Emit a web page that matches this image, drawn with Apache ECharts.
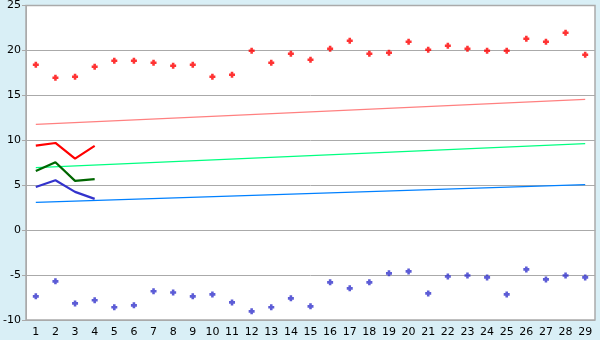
<!DOCTYPE html>
<html><head><meta charset="utf-8">
<script src="https://cdn.jsdelivr.net/npm/echarts@6/dist/echarts.min.js"></script>
<style>html,body{margin:0;padding:0;background:#d9eff6;}#c{width:600px;height:340px;}</style>
</head><body><div id="c"></div>
<script>
var categories = ['1','2','3','4','5','6','7','8','9','10','11','12','13','14','15','16','17','18','19','20','21','22','23','24','25','26','27','28','29'];
var redPoints = [18.41,16.96,17.07,18.19,18.85,18.85,18.63,18.3,18.41,17.07,17.3,19.96,18.63,19.63,18.96,20.19,21.07,19.63,19.74,20.96,20.07,20.52,20.19,19.96,19.96,21.3,20.96,21.96,19.52];
var bluePoints = [-7.37,-5.7,-8.15,-7.81,-8.59,-8.37,-6.81,-6.93,-7.37,-7.15,-8.04,-9.04,-8.59,-7.59,-8.48,-5.81,-6.48,-5.81,-4.81,-4.59,-7.04,-5.15,-5.04,-5.26,-7.15,-4.37,-5.48,-5.04,-5.26];
var redShort = [9.41,9.7,7.96,9.37];
var greenShort = [6.59,7.56,5.48,5.67];
var blueShort = [4.81,5.56,4.26,3.48];
var redTrend = [[0,11.78],[28,14.56]];
var greenTrend = [[0,6.96],[28,9.63]];
var blueTrend = [[0,3.08],[28,5.07]];
var yTicks = {min:-10, max:25, interval:5};

var plus = 'path://M2,0H5V2H7V5H5V7H2V5H0V2H2Z';
var font = 'DejaVu Sans';
var chart = echarts.init(document.getElementById('c'));
function trend(d,c){return {type:'line',data:d,symbol:'none',lineStyle:{color:c,width:1.2},silent:true,z:2,animation:false};}
function shortL(d,c){return {type:'line',data:d,symbol:'none',lineStyle:{color:c,width:2.2},silent:true,z:3,animation:false};}
chart.setOption({
  animation:false,
  backgroundColor:'#d9eff6',
  grid:{left:26,right:5,top:5,bottom:20,show:true,backgroundColor:'#ffffff',borderColor:'#aaaaaa',borderWidth:1.5},
  xAxis:{type:'category',data:categories,boundaryGap:true,
    axisLine:{lineStyle:{color:'#aaaaaa'}},
    axisTick:{alignWithLabel:true,length:5,lineStyle:{color:'#000'}},
    axisLabel:{color:'#000',fontFamily:font,fontSize:11,margin:7,interval:0},
    splitLine:{show:false}},
  yAxis:{type:'value',min:yTicks.min,max:yTicks.max,interval:yTicks.interval,
    axisLine:{show:true,lineStyle:{color:'#aaaaaa'}},
    axisTick:{show:true,length:4,lineStyle:{color:'#aaaaaa'}},
    axisLabel:{color:'#000',fontFamily:font,fontSize:11,margin:5},
    splitLine:{lineStyle:{color:'#aaaaaa'}}},
  series:[
    trend(redTrend,'#ff8080'),
    trend(greenTrend,'#00ff80'),
    trend(blueTrend,'#0080ff'),
    shortL(redShort,'#ff0000'),
    shortL(greenShort,'#006600'),
    shortL(blueShort,'#3333cc'),
    {type:'scatter',data:redPoints,symbol:plus,symbolSize:6,itemStyle:{color:'#ff0000'},z:4},
    {type:'scatter',data:bluePoints,symbol:plus,symbolSize:6,itemStyle:{color:'#3333cc'},z:4}
  ]
});
</script></body></html>
